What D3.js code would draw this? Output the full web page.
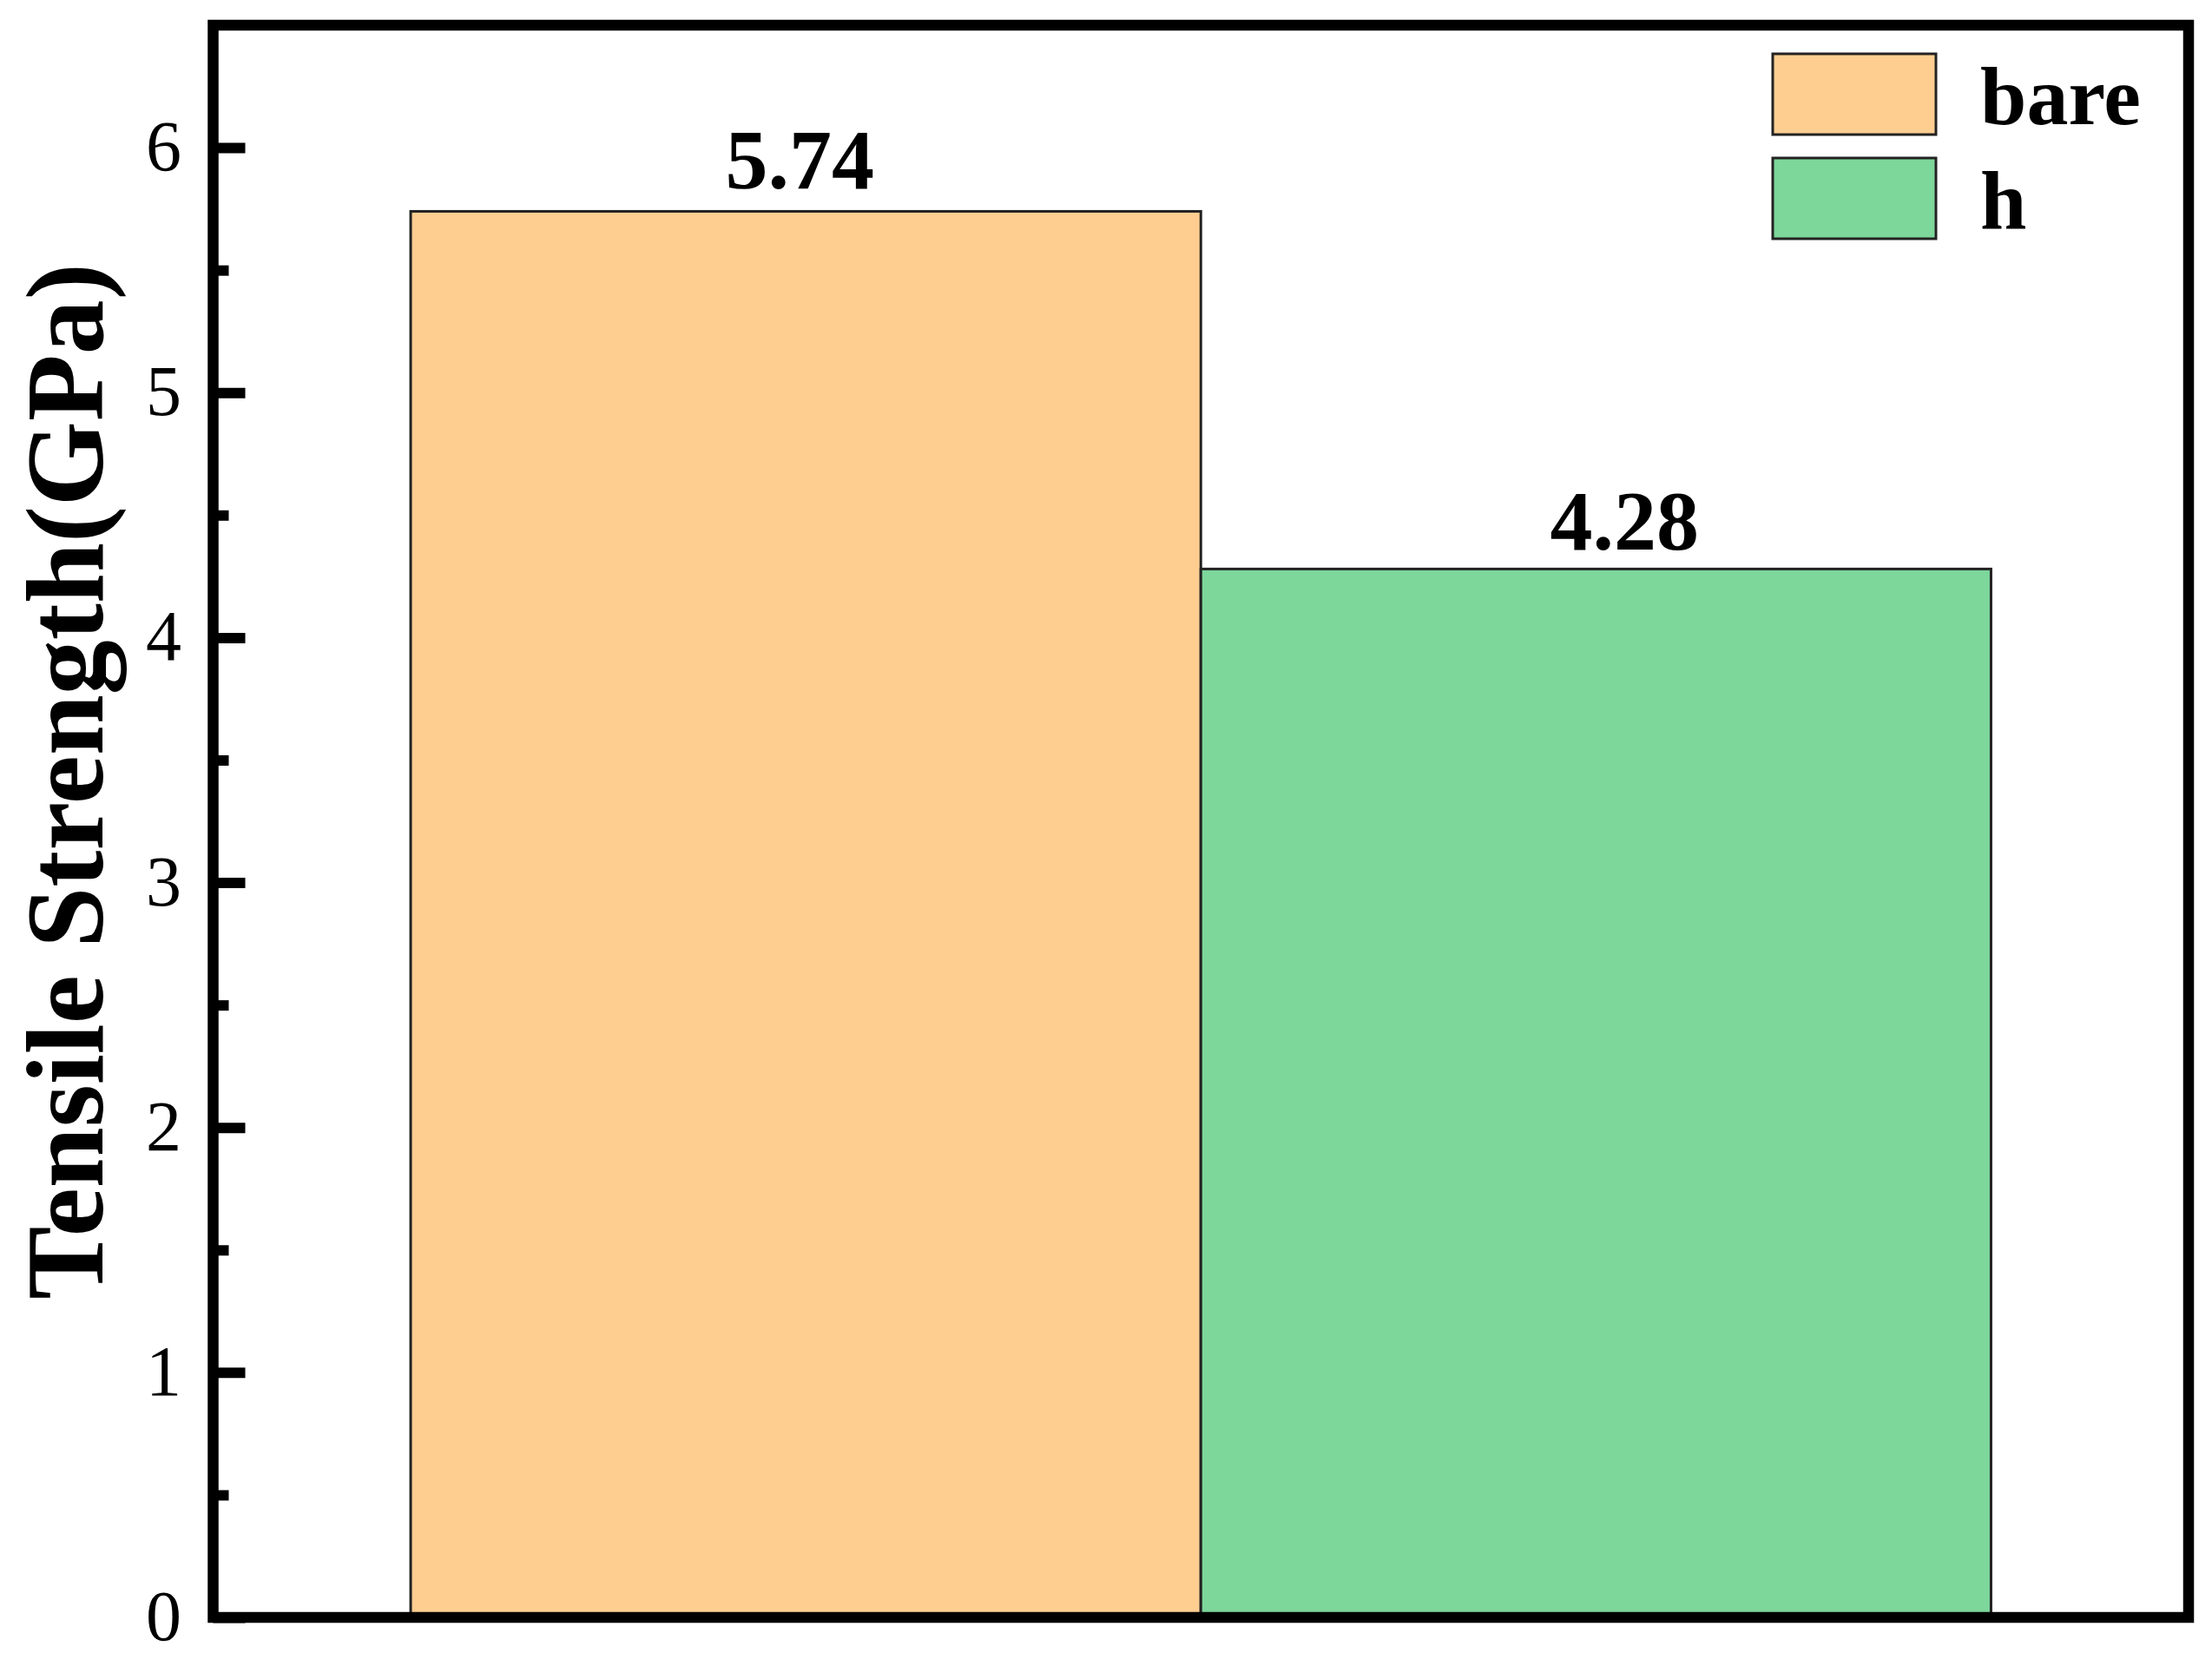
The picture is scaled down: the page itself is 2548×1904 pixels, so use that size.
<!DOCTYPE html>
<html>
<head>
<meta charset="utf-8">
<script src="https://cdn.jsdelivr.net/npm/d3@7"></script>
<style>
html,body{margin:0;padding:0;background:#fff;}
svg{display:block;}
text{font-family:"Liberation Serif","Times New Roman",serif;}
</style>
</head>
<body>
<svg id="chart" width="2548" height="1904"></svg>
<script>
const series = ["bare", "h"];
const values = [5.74, 4.28];
const labels = ["5.74", "4.28"];
const colors = ["#FECE91", "#7DD69A"];
const yTicks = [0, 1, 2, 3, 4, 5, 6];
const yMinorTicks = [0.5, 1.5, 2.5, 3.5, 4.5, 5.5];
const yTitle = "Tensile Strength(GPa)";

const svg = d3.select("#chart");
const L = 245.5, R = 2521, T = 29, B = 1863;
const W = R - L;

const y = d3.scaleLinear().domain([0, 6.5]).range([B, T]);
const x = d3.scaleBand().domain(series).range([L + 0.1 * W, L + 0.9 * W]).padding(0);

// bars
svg.append("g").selectAll("rect").data(series).join("rect")
  .attr("x", d => x(d))
  .attr("y", (d, i) => y(values[i]))
  .attr("width", x.bandwidth())
  .attr("height", (d, i) => y(0) - y(values[i]))
  .attr("fill", (d, i) => colors[i])
  .attr("stroke", "#222")
  .attr("stroke-width", 3);

// value labels (slight horizontal offsets as in the original figure)
const labelDx = [-7, 33];
const labelDy = [-26, -22];
svg.append("g").selectAll("text").data(series).join("text")
  .attr("x", (d, i) => x(d) + x.bandwidth() / 2 + labelDx[i])
  .attr("y", (d, i) => y(values[i]) + labelDy[i])
  .attr("text-anchor", "middle")
  .attr("font-weight", "bold")
  .attr("font-size", 98)
  .text((d, i) => labels[i]);

// y axis (ticks inside)
const yAxis = d3.axisRight(y).tickValues(yTicks).tickSize(37).tickFormat("");
const gy = svg.append("g").attr("transform", `translate(${L},0)`).call(yAxis);
gy.select(".domain").remove();
gy.selectAll(".tick line").attr("stroke", "#000").attr("stroke-width", 12);

const yMinor = d3.axisRight(y).tickValues(yMinorTicks).tickSize(18).tickFormat("");
const gym = svg.append("g").attr("transform", `translate(${L},0)`).call(yMinor);
gym.select(".domain").remove();
gym.selectAll(".tick line").attr("stroke", "#000").attr("stroke-width", 12);

// tick labels
svg.append("g").selectAll("text").data(yTicks).join("text")
  .attr("x", 209)
  .attr("y", d => y(d) + 26)
  .attr("text-anchor", "end")
  .attr("font-size", 82)
  .text(d => d);

// frame
svg.append("rect")
  .attr("x", L).attr("y", T)
  .attr("width", W).attr("height", B - T)
  .attr("fill", "none")
  .attr("stroke", "#000")
  .attr("stroke-width", 12.5);

// y title
svg.append("text")
  .attr("transform", `translate(118, 900) rotate(-90)`)
  .attr("text-anchor", "middle")
  .attr("font-weight", "bold")
  .attr("font-size", 126)
  .text(yTitle);

// legend
const lg = svg.append("g");
const legY = [62, 182];
lg.selectAll("rect").data(series).join("rect")
  .attr("x", 2042)
  .attr("y", (d, i) => legY[i])
  .attr("width", 188)
  .attr("height", 93)
  .attr("fill", (d, i) => colors[i])
  .attr("stroke", "#222")
  .attr("stroke-width", 3);
lg.selectAll("text").data(series).join("text")
  .attr("x", 2281)
  .attr("y", (d, i) => legY[i] + 81)
  .attr("font-weight", "bold")
  .attr("font-size", 96)
  .text(d => d);
</script>
</body>
</html>
